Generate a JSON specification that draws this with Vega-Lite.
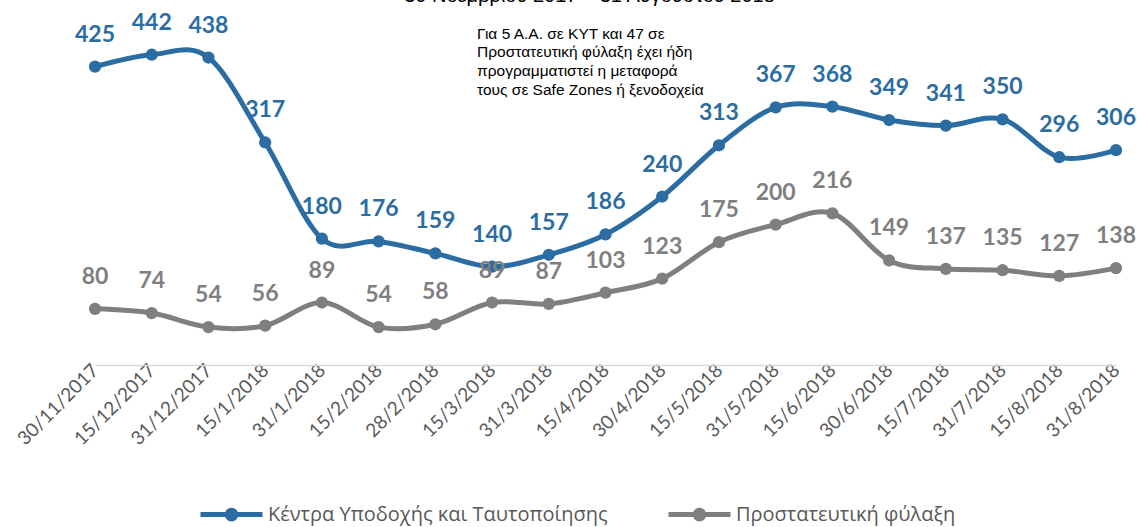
{
  "$schema": "https://vega.github.io/schema/vega-lite/v6.json",
  "width": 1021,
  "height": 351,
  "autosize": {"type": "none"},
  "padding": {"left": 95, "top": 14, "right": 21, "bottom": 162},
  "background": "white",
  "title": {
    "text": "30 Νοεμβρίου 2017 – 31 Αυγούστου 2018",
    "font": "Liberation Sans",
    "fontSize": 20,
    "fontWeight": "normal",
    "color": "#000000",
    "anchor": "middle",
    "dx": -16,
    "baseline": "alphabetic",
    "offset": -10,
    "frame": "group"
  },
  "data": {
    "values": [
      {"date": "30/11/2017", "series": "Κέντρα Υποδοχής και Ταυτοποίησης", "value": 425},
      {"date": "15/12/2017", "series": "Κέντρα Υποδοχής και Ταυτοποίησης", "value": 442},
      {"date": "31/12/2017", "series": "Κέντρα Υποδοχής και Ταυτοποίησης", "value": 438},
      {"date": "15/1/2018", "series": "Κέντρα Υποδοχής και Ταυτοποίησης", "value": 317},
      {"date": "31/1/2018", "series": "Κέντρα Υποδοχής και Ταυτοποίησης", "value": 180},
      {"date": "15/2/2018", "series": "Κέντρα Υποδοχής και Ταυτοποίησης", "value": 176},
      {"date": "28/2/2018", "series": "Κέντρα Υποδοχής και Ταυτοποίησης", "value": 159},
      {"date": "15/3/2018", "series": "Κέντρα Υποδοχής και Ταυτοποίησης", "value": 140},
      {"date": "31/3/2018", "series": "Κέντρα Υποδοχής και Ταυτοποίησης", "value": 157},
      {"date": "15/4/2018", "series": "Κέντρα Υποδοχής και Ταυτοποίησης", "value": 186},
      {"date": "30/4/2018", "series": "Κέντρα Υποδοχής και Ταυτοποίησης", "value": 240},
      {"date": "15/5/2018", "series": "Κέντρα Υποδοχής και Ταυτοποίησης", "value": 313},
      {"date": "31/5/2018", "series": "Κέντρα Υποδοχής και Ταυτοποίησης", "value": 367},
      {"date": "15/6/2018", "series": "Κέντρα Υποδοχής και Ταυτοποίησης", "value": 368},
      {"date": "30/6/2018", "series": "Κέντρα Υποδοχής και Ταυτοποίησης", "value": 349},
      {"date": "15/7/2018", "series": "Κέντρα Υποδοχής και Ταυτοποίησης", "value": 341},
      {"date": "31/7/2018", "series": "Κέντρα Υποδοχής και Ταυτοποίησης", "value": 350},
      {"date": "15/8/2018", "series": "Κέντρα Υποδοχής και Ταυτοποίησης", "value": 296},
      {"date": "31/8/2018", "series": "Κέντρα Υποδοχής και Ταυτοποίησης", "value": 306},
      {"date": "30/11/2017", "series": "Προστατευτική φύλαξη", "value": 80},
      {"date": "15/12/2017", "series": "Προστατευτική φύλαξη", "value": 74},
      {"date": "31/12/2017", "series": "Προστατευτική φύλαξη", "value": 54},
      {"date": "15/1/2018", "series": "Προστατευτική φύλαξη", "value": 56},
      {"date": "31/1/2018", "series": "Προστατευτική φύλαξη", "value": 89},
      {"date": "15/2/2018", "series": "Προστατευτική φύλαξη", "value": 54},
      {"date": "28/2/2018", "series": "Προστατευτική φύλαξη", "value": 58},
      {"date": "15/3/2018", "series": "Προστατευτική φύλαξη", "value": 89},
      {"date": "31/3/2018", "series": "Προστατευτική φύλαξη", "value": 87},
      {"date": "15/4/2018", "series": "Προστατευτική φύλαξη", "value": 103},
      {"date": "30/4/2018", "series": "Προστατευτική φύλαξη", "value": 123},
      {"date": "15/5/2018", "series": "Προστατευτική φύλαξη", "value": 175},
      {"date": "31/5/2018", "series": "Προστατευτική φύλαξη", "value": 200},
      {"date": "15/6/2018", "series": "Προστατευτική φύλαξη", "value": 216},
      {"date": "30/6/2018", "series": "Προστατευτική φύλαξη", "value": 149},
      {"date": "15/7/2018", "series": "Προστατευτική φύλαξη", "value": 137},
      {"date": "31/7/2018", "series": "Προστατευτική φύλαξη", "value": 135},
      {"date": "15/8/2018", "series": "Προστατευτική φύλαξη", "value": 127},
      {"date": "31/8/2018", "series": "Προστατευτική φύλαξη", "value": 138}
    ]
  },
  "layer": [
    {
      "encoding": {
        "x": {
          "field": "date",
          "type": "ordinal",
          "sort": null,
          "scale": {"type": "point", "padding": 0},
          "axis": {
            "title": null,
            "labelAngle": -45,
            "labelAlign": "right",
            "labelBaseline": "middle",
            "labelFont": "Lato",
            "labelFontSize": 19,
            "labelColor": "#595959",
            "labelPadding": 2,
            "ticks": false,
            "grid": false,
            "domainColor": "#D9D9D9",
            "domainWidth": 1.5
          }
        },
        "y": {
          "field": "value",
          "type": "quantitative",
          "scale": {"domain": [0, 500], "nice": false},
          "axis": null
        },
        "color": {
          "field": "series",
          "type": "nominal",
          "sort": null,
          "scale": {
            "domain": ["Κέντρα Υποδοχής και Ταυτοποίησης", "Προστατευτική φύλαξη"],
            "range": ["#2B6DA2", "#7F7F7F"]
          },
          "legend": {
            "orient": "none",
            "legendX": 103,
            "legendY": 467,
            "direction": "horizontal",
            "title": null,
            "symbolType": "M-1,0H1M0.14,0A0.14,0.14 0 1,1 -0.14,0A0.14,0.14 0 1,1 0.14,0",
            "symbolSize": 3844,
            "symbolStrokeWidth": 5,
            "labelFont": "Open Sans",
            "labelFontSize": 20,
            "labelColor": "#595959",
            "labelOffset": 3,
            "columnPadding": 50,
            "labelLimit": 0
          }
        }
      },
      "layer": [
        {"mark": {"type": "line", "interpolate": "cardinal", "strokeWidth": 5, "strokeCap": "round"}},
        {"mark": {"type": "point", "filled": true, "opacity": 1, "size": 150}},
        {
          "mark": {"type": "text", "dy": -32, "font": "Lato", "fontSize": 23, "fontWeight": "bold"},
          "encoding": {"text": {"field": "value", "type": "quantitative"}}
        }
      ]
    },
    {
      "data": {"values": [{}]},
      "mark": {
        "type": "text",
        "align": "left",
        "baseline": "top",
        "dx": -15,
        "font": "Liberation Sans",
        "fontSize": 15.5,
        "lineHeight": 18.7,
        "fill": "#000000"
      },
      "encoding": {
        "x": {"datum": "15/3/2018", "type": "ordinal"},
        "y": {"datum": 482, "type": "quantitative"},
        "text": {"value": ["Για 5 Α.Α. σε ΚΥΤ και 47 σε", "Προστατευτική φύλαξη έχει ήδη", "προγραμματιστεί η μεταφορά", "τους σε Safe Zones ή ξενοδοχεία"]}
      }
    }
  ],
  "config": {"view": {"stroke": null}}
}
